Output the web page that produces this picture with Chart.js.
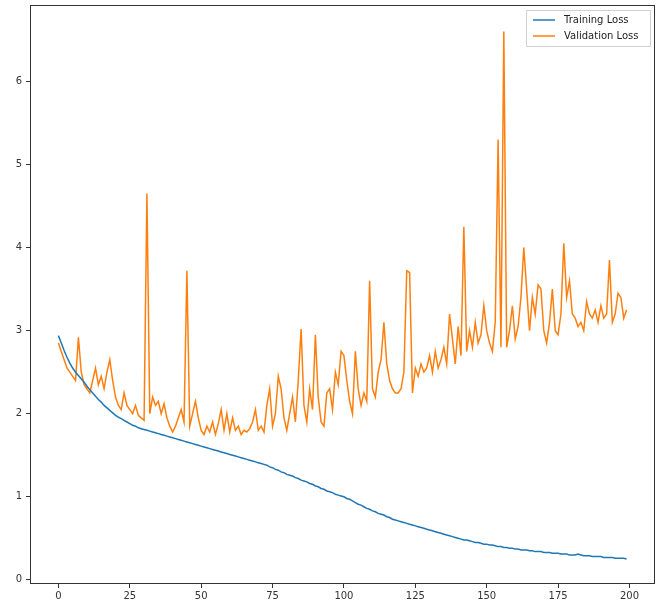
<!DOCTYPE html>
<html>
<head>
<meta charset="utf-8">
<script src="https://cdn.jsdelivr.net/npm/chart.js@4/dist/chart.umd.min.js"></script>
<style>
html,body{margin:0;padding:0;background:#fff;}
#wrap{width:657px;height:602px;position:relative;}
</style>
</head>
<body>
<div id="wrap"><canvas id="c" width="657" height="602"></canvas></div>
<script>
const epochs = Array.from({length: 200}, (_, i) => i);
const xTicks = [0, 25, 50, 75, 100, 125, 150, 175, 200];
const yTicks = [0, 1, 2, 3, 4, 5, 6];
const seriesNames = ["Training Loss", "Validation Loss"];

const trainingLoss = [
  2.94, 2.85, 2.76, 2.68, 2.61, 2.55, 2.50, 2.46, 2.42, 2.38,
  2.33, 2.29, 2.25, 2.21, 2.17, 2.14, 2.10, 2.07, 2.04, 2.01,
  1.98, 1.96, 1.94, 1.92, 1.90, 1.88, 1.86, 1.85, 1.83, 1.82,
  1.81, 1.80, 1.79, 1.78, 1.77, 1.76, 1.75, 1.74, 1.73, 1.72,
  1.71, 1.70, 1.69, 1.68, 1.67, 1.66, 1.65, 1.64, 1.63, 1.62,
  1.61, 1.60, 1.59, 1.58, 1.57, 1.56, 1.55, 1.54, 1.53, 1.52,
  1.51, 1.50, 1.49, 1.48, 1.47, 1.46, 1.45, 1.44, 1.43, 1.42,
  1.41, 1.40, 1.39, 1.38, 1.36, 1.35, 1.33, 1.32, 1.30, 1.29,
  1.27, 1.26, 1.25, 1.23, 1.22, 1.20, 1.19, 1.18, 1.16, 1.15,
  1.13, 1.12, 1.10, 1.09, 1.07, 1.06, 1.05, 1.03, 1.02, 1.01,
  1.00, 0.98, 0.97, 0.95, 0.93, 0.91, 0.90, 0.88, 0.86, 0.85,
  0.83, 0.82, 0.80, 0.79, 0.78, 0.76, 0.75, 0.73, 0.72, 0.71,
  0.70, 0.69, 0.68, 0.67, 0.66, 0.65, 0.64, 0.63, 0.62, 0.61,
  0.60, 0.59, 0.58, 0.57, 0.56, 0.55, 0.54, 0.53, 0.52, 0.51,
  0.50, 0.49, 0.48, 0.48, 0.47, 0.46, 0.45, 0.45, 0.44, 0.43,
  0.43, 0.42, 0.42, 0.41, 0.40, 0.40, 0.39, 0.39, 0.38, 0.38,
  0.37, 0.37, 0.36, 0.36, 0.36, 0.35, 0.35, 0.34, 0.34, 0.34,
  0.33, 0.33, 0.33, 0.32, 0.32, 0.32, 0.31, 0.31, 0.31, 0.30,
  0.30, 0.30, 0.31, 0.30, 0.29, 0.29, 0.29, 0.28, 0.28, 0.28,
  0.28, 0.27, 0.27, 0.27, 0.27, 0.26, 0.26, 0.26, 0.26, 0.25
];

const validationLoss = [
  2.85, 2.75, 2.65, 2.55, 2.50, 2.45, 2.40, 2.92, 2.50, 2.35,
  2.30, 2.25, 2.40, 2.55, 2.35, 2.45, 2.30, 2.50, 2.65, 2.40,
  2.20, 2.10, 2.05, 2.25, 2.10, 2.05, 2.00, 2.10, 1.98, 1.95,
  1.92, 4.65, 2.00, 2.20, 2.10, 2.15, 2.00, 2.12, 1.95, 1.85,
  1.78, 1.85, 1.95, 2.05, 1.90, 3.72, 1.85, 2.00, 2.15, 1.95,
  1.80, 1.75, 1.85, 1.78, 1.90, 1.75, 1.88, 2.05, 1.80, 2.00,
  1.78, 1.95, 1.80, 1.85, 1.75, 1.80, 1.78, 1.82, 1.90, 2.05,
  1.80, 1.85, 1.78, 2.10, 2.30, 1.85, 2.00, 2.45, 2.30, 1.95,
  1.80, 2.00, 2.20, 1.90, 2.40, 3.02, 2.10, 1.90, 2.30, 2.05,
  2.95, 2.20, 1.90, 1.85, 2.25, 2.30, 2.05, 2.50, 2.35, 2.75,
  2.70, 2.40, 2.15, 2.00, 2.75, 2.30, 2.10, 2.25, 2.15, 3.60,
  2.30, 2.20, 2.50, 2.65, 3.10, 2.60, 2.40, 2.30, 2.25, 2.25,
  2.30, 2.50, 3.72, 3.70, 2.25, 2.55, 2.45, 2.60, 2.50, 2.55,
  2.70, 2.50, 2.75, 2.55, 2.65, 2.80, 2.60, 3.20, 2.90, 2.60,
  3.05, 2.70, 4.25, 2.75, 3.00, 2.80, 3.10, 2.85, 2.95, 3.30,
  3.00, 2.85, 2.75, 3.10, 5.30, 2.80, 6.60, 2.80, 3.00, 3.30,
  2.90, 3.05, 3.40, 4.00, 3.50, 3.00, 3.40, 3.20, 3.55, 3.50,
  3.00, 2.85, 3.10, 3.50, 3.00, 2.95, 3.20, 4.05, 3.40, 3.60,
  3.20, 3.15, 3.05, 3.10, 3.00, 3.35, 3.20, 3.15, 3.25, 3.10,
  3.30, 3.15, 3.20, 3.85, 3.10, 3.20, 3.45, 3.40, 3.15, 3.25
];

const colors = ["#1f77b4", "#ff7f0e"];
const FONT = "'DejaVu Sans', sans-serif";

const framePlugin = {
  id: 'frame',
  afterDatasetsDraw(chart) {
    const {ctx, chartArea: a} = chart;
    ctx.save();
    ctx.strokeStyle = '#333';
    ctx.lineWidth = 1;
    ctx.strokeRect(Math.round(a.left) + 0.5, Math.round(a.top) + 0.5,
                   Math.round(a.right - a.left) - 1, Math.round(a.bottom - a.top) - 1);
    ctx.restore();
  }
};

const legendPlugin = {
  id: 'mplLegend',
  afterDraw(chart) {
    const {ctx, chartArea: a} = chart;
    ctx.save();
    const w = 124, h = 36;
    const x0 = a.right - w - 5, y0 = a.top + 5;
    ctx.fillStyle = 'rgba(255,255,255,0.85)';
    ctx.strokeStyle = '#d0d0d0';
    ctx.lineWidth = 1;
    ctx.beginPath();
    ctx.rect(x0 + 0.5, y0 + 0.5, w, h);
    ctx.fill();
    ctx.stroke();
    ctx.font = "10px " + FONT;
    ctx.textBaseline = 'middle';
    seriesNames.forEach((name, i) => {
      const ly = y0 + 10 + i * 16;
      ctx.strokeStyle = colors[i];
      ctx.lineWidth = 1.5;
      ctx.beginPath();
      ctx.moveTo(x0 + 7, ly);
      ctx.lineTo(x0 + 29, ly);
      ctx.stroke();
      ctx.fillStyle = '#222';
      ctx.fillText(name, x0 + 38, ly);
    });
    ctx.restore();
  }
};

new Chart(document.getElementById('c'), {
  type: 'line',
  data: {
    labels: epochs,
    datasets: [
      { label: seriesNames[0], data: trainingLoss, borderColor: colors[0], borderWidth: 1.5, pointRadius: 0, tension: 0, fill: false },
      { label: seriesNames[1], data: validationLoss, borderColor: colors[1], borderWidth: 1.5, pointRadius: 0, tension: 0, fill: false }
    ]
  },
  options: {
    responsive: false,
    animation: false,
    events: [],
    layout: { padding: { top: 5, right: 2, left: 0, bottom: 0 } },
    plugins: { legend: { display: false }, tooltip: { enabled: false } },
    scales: {
      x: {
        type: 'linear',
        min: -9.95, max: 208.95,
        afterBuildTicks: s => { s.ticks = xTicks.map(v => ({ value: v })); },
        afterFit: s => { s.height = 18; s.paddingLeft = 0; s.paddingRight = 0; },
        grid: { display: true, drawOnChartArea: false, drawTicks: true, tickLength: 4, color: '#333' },
        border: { display: false },
        ticks: { font: { family: FONT, size: 10 }, color: '#333', padding: 2, maxRotation: 0, autoSkip: false }
      },
      y: {
        min: -0.05, max: 6.92,
        afterBuildTicks: s => { s.ticks = yTicks.map(v => ({ value: v })); },
        afterFit: s => { s.width = 30; s.paddingTop = 0; s.paddingBottom = 0; },
        grid: { display: true, drawOnChartArea: false, drawTicks: true, tickLength: 4, color: '#333' },
        border: { display: false },
        ticks: { font: { family: FONT, size: 10 }, color: '#333', padding: 4, autoSkip: false }
      }
    }
  },
  plugins: [framePlugin, legendPlugin]
});
</script>
</body>
</html>
